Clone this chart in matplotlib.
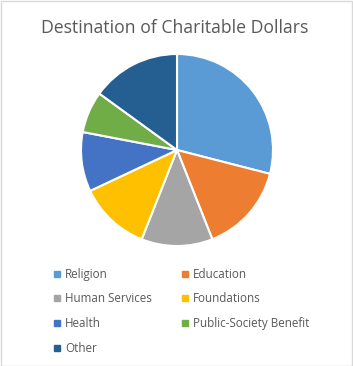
import matplotlib
matplotlib.use('Agg')
import matplotlib.pyplot as plt
from matplotlib.lines import Line2D
from matplotlib.patches import Rectangle

# data
categories = ["Religion", "Education", "Human Services", "Foundations",
              "Health", "Public-Society Benefit", "Other"]
shares = [29, 15, 12, 12, 10, 7, 15]
colors = ["#5B9BD5", "#ED7D31", "#A5A5A5", "#FFC000",
          "#4472C4", "#70AD47", "#255E91"]

plt.rcParams['font.family'] = ['Open Sans', 'DejaVu Sans']
W, H = 353, 366
fig = plt.figure(figsize=(W / 100, H / 100), dpi=100)

# pie centre (177,150) px, radius 96 px
cx, cy, r = 177, 150, 96
ax = fig.add_axes([(cx - r) / W, (H - cy - r) / H, 2 * r / W, 2 * r / H])
wedges, _ = ax.pie(shares, colors=colors, startangle=90, counterclock=False,
                   wedgeprops=dict(edgecolor='white', linewidth=1.5))
ax.set_xlim(-1.0, 1.0)
ax.set_ylim(-1.0, 1.0)
ax.set_aspect('equal')
ax.axis('off')

fig.text(175 / W, 1 - 28 / H, "Destination of Charitable Dollars",
         ha='center', va='center', fontsize=12.7, color='#595959')

# legend fills column-wise, so reorder to get the row-wise look
order = [0, 2, 4, 6, 1, 3, 5]
handles = [Line2D([], [], marker='s', linestyle='', markersize=4.5,
                  color=colors[i]) for i in order]
labels = [categories[i] for i in order]
fig.legend(handles, labels, ncol=2, loc='upper left',
           bbox_to_anchor=(49 / W, 1 - 263 / H), frameon=False,
           fontsize=8.4, labelcolor='#595959', handlelength=0.6,
           handletextpad=0.35, columnspacing=2.6, labelspacing=1.0,
           borderaxespad=0)

fig.patches.append(Rectangle((0.5 / W, 0.5 / H), 1 - 1.5 / W, 1 - 1.5 / H,
                             transform=fig.transFigure, fill=False,
                             edgecolor='#D9D9D9', linewidth=1))

fig.savefig("out.png", dpi=100)
